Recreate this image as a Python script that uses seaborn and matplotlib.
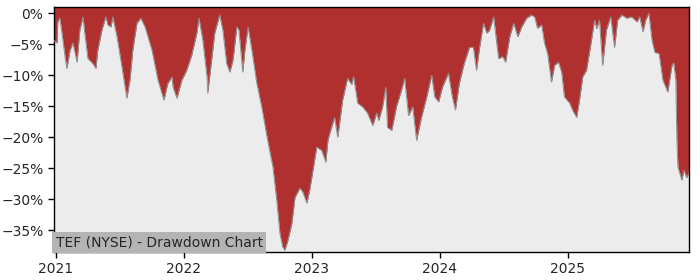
import matplotlib
matplotlib.use("Agg")
import matplotlib.pyplot as plt
import matplotlib.dates as mdates
from matplotlib.ticker import FuncFormatter, MultipleLocator
import seaborn as sns
import pandas as pd

dates = [
    "2020-12-26", "2021-01-04", "2021-01-06", "2021-01-12", "2021-01-18", "2021-01-27",
    "2021-02-01", "2021-02-10", "2021-02-18", "2021-02-24", "2021-03-02", "2021-03-10",
    "2021-03-19", "2021-03-24", "2021-04-02", "2021-04-16", "2021-04-25", "2021-04-30",
    "2021-05-12", "2021-05-23", "2021-05-29", "2021-06-07", "2021-06-12", "2021-06-24",
    "2021-07-08", "2021-07-22", "2021-07-31", "2021-08-08", "2021-08-20", "2021-08-31",
    "2021-09-12", "2021-10-02", "2021-10-19", "2021-11-05", "2021-11-16", "2021-11-28",
    "2021-12-01", "2021-12-12", "2021-12-26", "2022-01-09", "2022-01-23", "2022-02-07",
    "2022-02-13", "2022-02-24", "2022-03-08", "2022-03-10", "2022-03-19", "2022-03-30",
    "2022-04-13", "2022-04-22", "2022-05-03", "2022-05-12", "2022-05-21", "2022-06-01",
    "2022-06-07", "2022-06-18", "2022-06-24", "2022-07-03", "2022-07-14", "2022-07-28",
    "2022-08-11", "2022-08-28", "2022-09-12", "2022-09-23", "2022-10-02", "2022-10-10",
    "2022-10-16", "2022-10-25", "2022-11-05", "2022-11-14", "2022-11-28", "2022-12-06",
    "2022-12-18", "2022-12-26", "2023-01-03", "2023-01-15", "2023-01-29", "2023-02-10",
    "2023-02-16", "2023-02-21", "2023-03-07", "2023-03-16", "2023-03-30", "2023-04-13",
    "2023-04-25", "2023-04-30", "2023-05-12", "2023-05-26", "2023-06-09", "2023-06-24",
    "2023-07-05", "2023-07-11", "2023-07-22", "2023-07-31", "2023-08-05", "2023-08-17",
    "2023-08-31", "2023-09-14", "2023-09-23", "2023-10-04", "2023-10-16", "2023-10-27",
    "2023-11-10", "2023-11-25", "2023-12-09", "2023-12-18", "2023-12-29", "2024-01-09",
    "2024-01-26", "2024-02-06", "2024-02-15", "2024-02-26", "2024-03-11", "2024-03-26",
    "2024-04-06", "2024-04-15", "2024-04-24", "2024-05-05", "2024-05-14", "2024-05-22",
    "2024-06-03", "2024-06-11", "2024-06-17", "2024-06-29", "2024-07-07", "2024-07-19",
    "2024-07-30", "2024-08-11", "2024-08-22", "2024-09-05", "2024-09-19", "2024-09-28",
    "2024-10-06", "2024-10-18", "2024-10-26", "2024-11-04", "2024-11-15", "2024-11-24",
    "2024-12-05", "2024-12-14", "2024-12-22", "2025-01-06", "2025-01-14", "2025-01-26",
    "2025-02-03", "2025-02-12", "2025-02-23", "2025-03-09", "2025-03-18", "2025-03-24",
    "2025-04-01", "2025-04-10", "2025-04-21", "2025-05-03", "2025-05-14", "2025-05-23",
    "2025-06-04", "2025-06-18", "2025-07-02", "2025-07-17", "2025-07-25", "2025-08-03",
    "2025-08-11", "2025-08-20", "2025-08-29", "2025-09-06", "2025-09-18", "2025-09-29",
    "2025-10-13", "2025-10-25", "2025-10-30", "2025-11-05", "2025-11-08", "2025-11-11",
    "2025-11-22", "2025-11-28", "2025-12-06", "2025-12-12",
]

drawdown = [
    -4.4, -4.8, -1.4, -0.8, -3.2, -7.1,
    -8.9, -6.0, -4.8, -6.3, -7.9, -2.7,
    -0.6, -3.2, -7.3, -8.1, -8.9, -6.0,
    -2.7, -0.6, -1.9, -2.2, -0.6, -3.8,
    -8.6, -13.7, -10.8, -6.0, -1.6, -0.8,
    -2.2, -6.0, -10.8, -14.0, -11.3, -10.3,
    -11.9, -13.7, -10.8, -9.2, -6.8, -3.2,
    -0.8, -4.4, -10.3, -12.9, -8.6, -3.2,
    -0.3, -2.7, -8.1, -9.5, -7.6, -2.2,
    -2.7, -9.5, -6.0, -2.2, -6.0, -11.3,
    -15.1, -20.5, -24.8, -30.2, -35.5, -37.7,
    -38.2, -36.6, -33.9, -29.7, -28.2, -28.8,
    -30.6, -28.5, -25.8, -21.6, -22.1, -24.0,
    -20.5, -19.4, -16.8, -20.0, -14.0, -10.5,
    -11.5, -10.2, -14.5, -15.1, -16.1, -18.1,
    -16.1, -17.3, -15.1, -11.9, -18.4, -18.9,
    -15.0, -12.4, -10.5, -16.5, -15.1, -20.5,
    -16.8, -13.5, -10.0, -13.5, -14.3, -11.9,
    -9.7, -13.5, -15.6, -11.3, -8.1, -5.5,
    -5.5, -9.2, -5.5, -1.6, -3.2, -2.8,
    -0.6, -4.4, -7.3, -7.0, -7.9, -3.8,
    -1.6, -3.8, -2.2, -0.8, -0.3, -0.6,
    -2.4, -1.9, -4.8, -6.5, -11.1, -8.4,
    -7.9, -9.5, -13.5, -14.5, -15.6, -16.8,
    -14.0, -10.3, -9.2, -4.4, -1.1, -2.5,
    -1.1, -8.4, -2.7, -0.6, -5.5, -1.1,
    -0.3, -0.8, -0.6, -1.4, -0.6, -3.0,
    -1.1, 0.0, -4.4, -6.3, -6.5, -10.8,
    -12.7, -8.4, -8.0, -10.8, -20.5, -24.8,
    -26.9, -25.3, -26.5, -25.8,
]

title_text = "TEF (NYSE) - Drawdown Chart"

df = pd.DataFrame({"date": pd.to_datetime(dates), "dd": drawdown})

sns.set_style("white")
fig = plt.figure(figsize=(7, 2.8), dpi=100)
ax = fig.add_axes([0.077, 0.1, 0.907, 0.875])
ax.set_facecolor("#ececec")

y_top = 1.0
ax.fill_between(df["date"], df["dd"], y_top, color="#b03030", linewidth=0, zorder=2)
sns.lineplot(data=df, x="date", y="dd", ax=ax, color="#909090", linewidth=0.7, zorder=3)

ax.set_xlim(pd.Timestamp("2020-12-26"), pd.Timestamp("2025-12-12"))
ax.set_ylim(-38.5, y_top)
ax.yaxis.set_major_locator(MultipleLocator(5))
ax.yaxis.set_major_formatter(FuncFormatter(lambda v, p: f"{v:.0f}%".replace("-", "\u2212")))
ax.xaxis.set_major_locator(mdates.YearLocator())
ax.xaxis.set_major_formatter(mdates.DateFormatter("%Y"))
ax.set_xlabel("")
ax.set_ylabel("")
ax.tick_params(axis="both", which="major", length=4, width=1, color="black",
               labelsize=10, left=True, bottom=True)
for s in ax.spines.values():
    s.set_visible(True)
    s.set_color("black")
    s.set_linewidth(1)

ax.text(0.003, 0.012, title_text, transform=ax.transAxes, fontsize=10,
        ha="left", va="bottom", zorder=5,
        bbox=dict(facecolor="#b4b4b4", edgecolor="none", pad=2.5))

fig.savefig("out.png", dpi=100)
